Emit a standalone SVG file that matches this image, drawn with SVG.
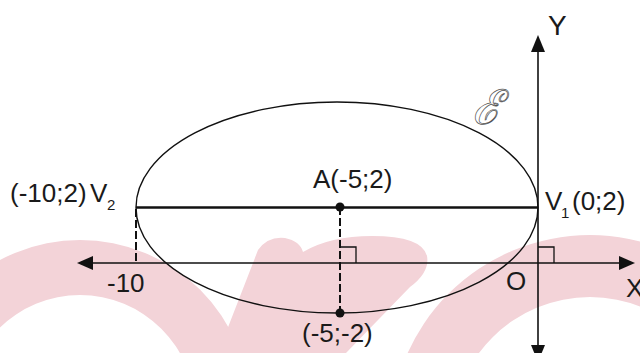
<svg xmlns="http://www.w3.org/2000/svg" width="640" height="353" viewBox="0 0 640 353">
<defs>
<style>
.wm{fill:#f3d3d8;stroke:none}
.ax{stroke:#111;stroke-width:1.6;fill:none}
.ah{fill:#111;stroke:none}
.el{stroke:#111;stroke-width:1.4;fill:none}
.maj{stroke:#111;stroke-width:2.4;fill:none}
.dash{stroke:#111;stroke-width:2;stroke-dasharray:8 3;fill:none}
.ra{stroke:#111;stroke-width:1.3;fill:none}
.t{font-family:"Liberation Sans",Arial,sans-serif;font-size:26px;fill:#1a1a1a}
.s{font-family:"Liberation Sans",Arial,sans-serif;font-size:15px;fill:#1a1a1a}
</style>
</defs>
<rect width="640" height="353" fill="#fff"/>
<g id="watermark">
<path class="wm" fill-rule="evenodd" d="M -90 410 A 170 170 0 0 1 250 410 Z M -35 410 A 115 115 0 0 1 195 410 Z"/>
<path class="wm" d="M 218 353 L 258 250 Q 268 236 285 238 Q 300 241 303 252 Q 330 236 372 236 Q 422 236 427 256 Q 430 272 410 287 L 346 353 Z"/>
<path class="wm" fill-rule="evenodd" d="M 390 435 A 200 200 0 0 1 790 435 Z M 452 435 A 138 138 0 0 1 728 435 Z"/>
</g>
<g id="connectors">
<line class="ax" x1="90" y1="263" x2="622" y2="263"/>
<polygon class="ah" points="77,263 93,256 93,270"/>
<polygon class="ah" points="635,263 619,256 619,270"/>
<line class="ax" x1="538" y1="50" x2="538" y2="347"/>
<polygon class="ah" points="538,35 531,52 545,52"/>
<polygon class="ah" points="538,362 531,345 545,345"/>
<line class="maj" x1="136" y1="207.5" x2="538" y2="207.5"/>
<line class="dash" x1="136" y1="209" x2="136" y2="263"/>
<line class="dash" x1="340" y1="207" x2="340" y2="313"/>
<polyline class="ra" points="340,247 356,247 356,263"/>
<polyline class="ra" points="538,247 554,247 554,263"/>
</g>
<g id="ellipse">
<ellipse class="el" cx="337" cy="207.5" rx="201" ry="105.5"/>
</g>
<g id="pointA">
<circle cx="340" cy="207" r="4.5" fill="#111"/>
<text class="t" x="313" y="188">A(-5;2)</text>
</g>
<g id="pointB">
<circle cx="340" cy="313" r="4.5" fill="#111"/>
<text class="t" x="302" y="342">(-5;-2)</text>
</g>
<g id="V2">
<text class="t" x="10" y="202">(-10;2)</text>
<text class="t" x="90" y="202">V</text>
<text class="s" x="107" y="210">2</text>
</g>
<g id="V1">
<text class="t" x="545" y="210">V</text>
<text class="s" x="561" y="218">1</text>
<text class="t" x="572" y="210">(0;2)</text>
</g>
<g id="labels">
<text class="t" x="107" y="292">-10</text>
<text class="t" x="506" y="290">O</text>
<text class="t" x="626" y="297">X</text>
<text class="t" x="548" y="35" style="font-size:28px">Y</text>
<text x="472" y="124" style="font-family:'DejaVu Serif',serif;font-size:48px;font-style:italic;fill:#fff;stroke:#555;stroke-width:0.7">ℰ</text>
</g>
</svg>
